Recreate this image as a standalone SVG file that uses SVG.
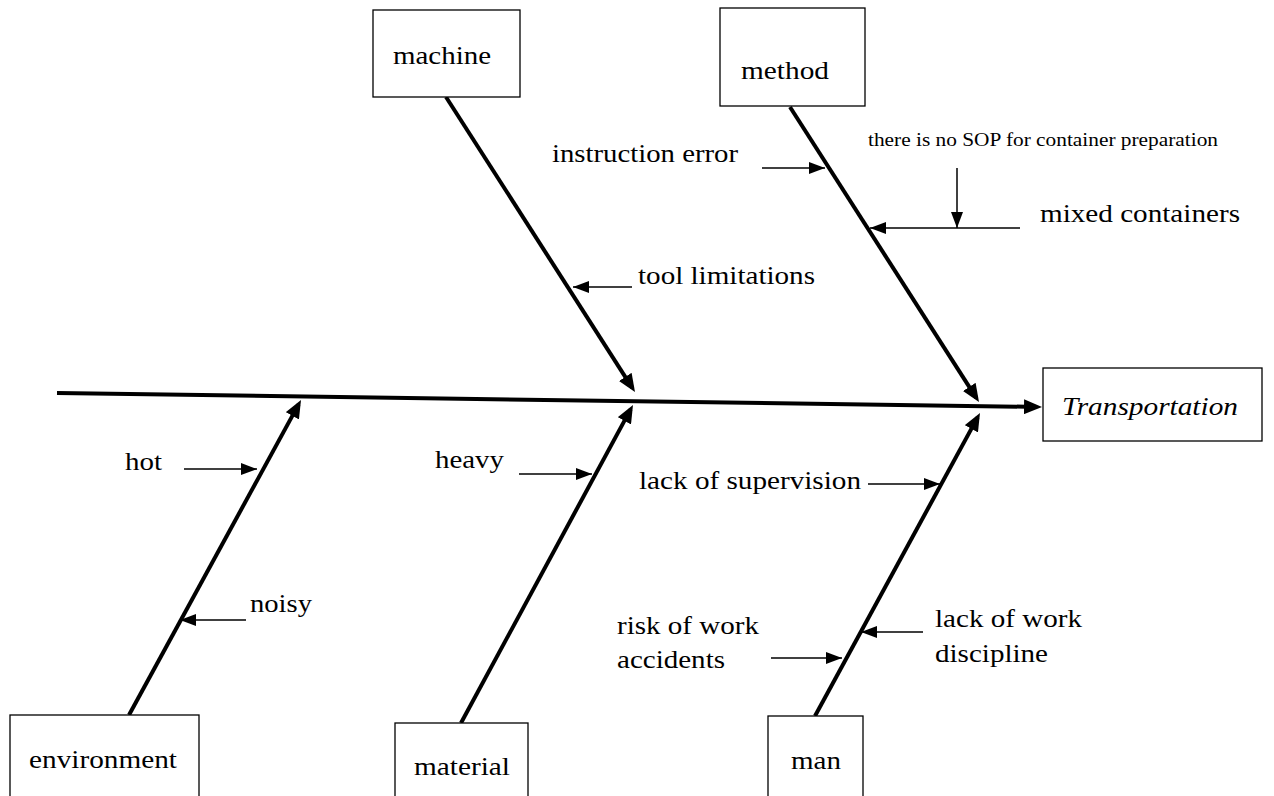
<svg xmlns="http://www.w3.org/2000/svg" width="1274" height="796" viewBox="0 0 1274 796">
<style>
.box{fill:#fff;stroke:#000;stroke-width:1.3}
.t{font-family:"Liberation Serif","Times New Roman",serif;font-size:25px;fill:#000}
.s{font-size:19px}
.it{font-style:italic}
.bone{stroke:#000;stroke-width:4;fill:none;marker-end:url(#big)}
.cause{stroke:#000;stroke-width:1.5;fill:none;marker-end:url(#small)}
</style>
<defs>
<marker id="big" markerUnits="userSpaceOnUse" markerWidth="18" markerHeight="15" refX="13" refY="7.5" orient="auto" viewBox="0 0 18 15">
<path d="M0,0 L18,7.5 L0,15 z" fill="#000"/>
</marker>
<marker id="small" markerUnits="userSpaceOnUse" markerWidth="16" markerHeight="12" refX="16" refY="6" orient="auto" viewBox="0 0 16 12">
<path d="M0,0 L16,6 L0,12 z" fill="#000"/>
</marker>
</defs>
<rect width="1274" height="796" fill="#fff"/>
<g id="connectors">
<line class="bone" x1="57" y1="393" x2="1037" y2="406.9"/>
<line class="bone" x1="446" y1="97" x2="632.3" y2="387.8"/>
<line class="bone" x1="790" y1="107" x2="976.3" y2="397.8"/>
<line class="bone" x1="129" y1="715" x2="298.6" y2="404.4"/>
<line class="bone" x1="461" y1="723" x2="630.6" y2="409.4"/>
<line class="bone" x1="815" y1="716" x2="977.6" y2="417.4"/>
<line class="cause" x1="762" y1="168" x2="825" y2="168"/>
<line class="cause" x1="957" y1="168" x2="957" y2="228"/>
<line class="cause" x1="1020" y1="228" x2="870" y2="228"/>
<line class="cause" x1="632" y1="287" x2="573" y2="287"/>
<line class="cause" x1="184" y1="469" x2="257" y2="469"/>
<line class="cause" x1="246" y1="620" x2="180" y2="620"/>
<line class="cause" x1="519" y1="474" x2="592" y2="474"/>
<line class="cause" x1="868" y1="484" x2="940" y2="484"/>
<line class="cause" x1="771" y1="658" x2="842" y2="658"/>
<line class="cause" x1="923" y1="632" x2="861" y2="632"/>
</g>
<g id="machine">
<rect class="box" x="373" y="10" width="147" height="87"/>
<text class="t" x="393" y="64" textLength="98" lengthAdjust="spacingAndGlyphs">machine</text>
</g>
<g id="method">
<rect class="box" x="720" y="8" width="145" height="98"/>
<text class="t" x="741" y="79" textLength="88" lengthAdjust="spacingAndGlyphs">method</text>
</g>
<g id="transportation">
<rect class="box" x="1043" y="368" width="219" height="73"/>
<text class="t it" x="1062" y="415" textLength="176" lengthAdjust="spacingAndGlyphs">Transportation</text>
</g>
<g id="environment">
<rect class="box" x="10" y="715" width="189" height="95"/>
<text class="t" x="29" y="768" textLength="148" lengthAdjust="spacingAndGlyphs">environment</text>
</g>
<g id="material">
<rect class="box" x="395" y="723" width="133" height="90"/>
<text class="t" x="414" y="775" textLength="96" lengthAdjust="spacingAndGlyphs">material</text>
</g>
<g id="man">
<rect class="box" x="768" y="716" width="95" height="95"/>
<text class="t" x="791" y="769" textLength="50" lengthAdjust="spacingAndGlyphs">man</text>
</g>
<g id="cause-instruction-error">
<text class="t" x="552" y="162" textLength="186" lengthAdjust="spacingAndGlyphs">instruction error</text>
</g>
<g id="cause-no-sop">
<text class="t s" x="868" y="146" textLength="350" lengthAdjust="spacingAndGlyphs">there is no SOP for container preparation</text>
</g>
<g id="cause-mixed-containers">
<text class="t" x="1040" y="222" textLength="200" lengthAdjust="spacingAndGlyphs">mixed containers</text>
</g>
<g id="cause-tool-limitations">
<text class="t" x="638" y="284" textLength="177" lengthAdjust="spacingAndGlyphs">tool limitations</text>
</g>
<g id="cause-hot">
<text class="t" x="125" y="470" textLength="37" lengthAdjust="spacingAndGlyphs">hot</text>
</g>
<g id="cause-noisy">
<text class="t" x="250" y="612" textLength="62" lengthAdjust="spacingAndGlyphs">noisy</text>
</g>
<g id="cause-heavy">
<text class="t" x="435" y="468" textLength="69" lengthAdjust="spacingAndGlyphs">heavy</text>
</g>
<g id="cause-lack-of-supervision">
<text class="t" x="639" y="489" textLength="222" lengthAdjust="spacingAndGlyphs">lack of supervision</text>
</g>
<g id="cause-risk-of-work-accidents">
<text class="t" x="617" y="634" textLength="142" lengthAdjust="spacingAndGlyphs">risk of work</text>
<text class="t" x="617" y="668" textLength="108" lengthAdjust="spacingAndGlyphs">accidents</text>
</g>
<g id="cause-lack-of-work-discipline">
<text class="t" x="935" y="627" textLength="147" lengthAdjust="spacingAndGlyphs">lack of work</text>
<text class="t" x="935" y="662" textLength="113" lengthAdjust="spacingAndGlyphs">discipline</text>
</g>
</svg>
